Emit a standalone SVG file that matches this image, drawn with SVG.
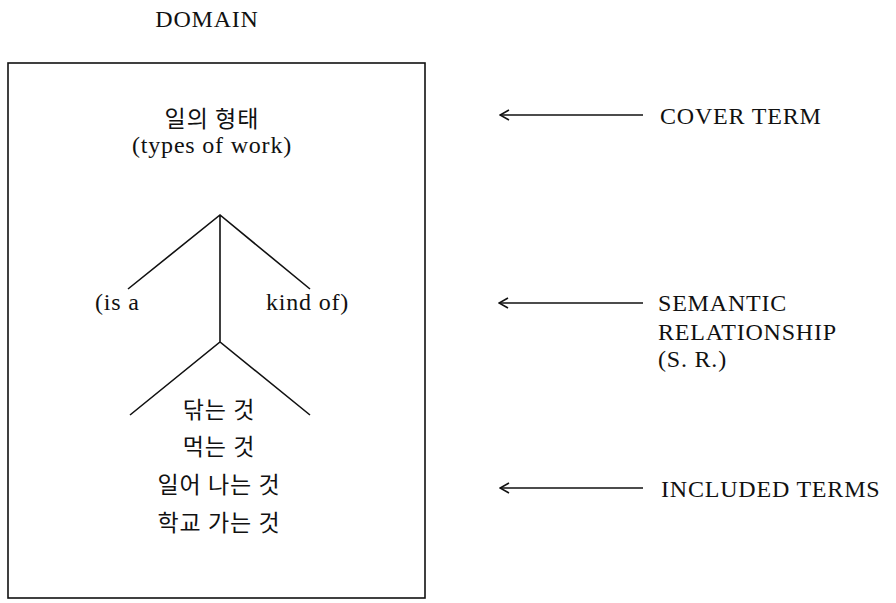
<svg xmlns="http://www.w3.org/2000/svg" width="896" height="603" viewBox="0 0 896 603">
<style>
.t{font-family:"Liberation Serif","Times New Roman",serif;font-size:24px;fill:#111;letter-spacing:0.8px}
.k{font-family:"Noto Sans CJK KR","Noto Sans CJK SC",sans-serif;font-size:23px;fill:#111;letter-spacing:1px}
.ln{stroke:#111;stroke-width:1.6;fill:none}
</style>
<defs>
<marker id="ah" viewBox="0 0 12 12" markerWidth="12" markerHeight="12" refX="11" refY="6" orient="auto" markerUnits="userSpaceOnUse">
<path d="M2,1 L11,6 L2,11" fill="none" stroke="#111" stroke-width="1.6"/>
</marker>
</defs>
<rect width="896" height="603" fill="#fff"/>
<g id="domain-title"><text class="t" x="207" y="27" text-anchor="middle">DOMAIN</text></g>
<g id="domain-box"><rect x="8" y="63" width="417" height="535" class="ln"/></g>
<g id="cover-term">
<text class="k" x="212" y="127" text-anchor="middle">일의 형태</text>
<text class="t" x="212" y="153" text-anchor="middle">(types of work)</text>
</g>
<g id="semantic-relationship">
<text class="t" x="95" y="310">(is a</text>
<text class="t" x="266" y="310">kind of)</text>
</g>
<g id="included-terms">
<text class="k" x="219" y="418" text-anchor="middle">닦는 것</text>
<text class="k" x="219" y="455" text-anchor="middle">먹는 것</text>
<text class="k" x="219" y="493" text-anchor="middle">일어 나는 것</text>
<text class="k" x="219" y="531" text-anchor="middle">학교 가는 것</text>
</g>
<g id="label-cover"><text class="t" x="660" y="124">COVER TERM</text></g>
<g id="label-sr">
<text class="t" x="658" y="311">SEMANTIC</text>
<text class="t" x="658" y="340">RELATIONSHIP</text>
<text class="t" x="658" y="367">(S. R.)</text>
</g>
<g id="label-included"><text class="t" x="661" y="497">INCLUDED TERMS</text></g>
<g id="connectors">
<path class="ln" d="M128,289 L220,215 L310,289 M220,215 L220,342 M130,415 L220,342 L310,415"/>
<line class="ln" x1="643" y1="115" x2="500" y2="115" marker-end="url(#ah)"/>
<line class="ln" x1="643" y1="303" x2="499" y2="303" marker-end="url(#ah)"/>
<line class="ln" x1="643" y1="488" x2="500" y2="488" marker-end="url(#ah)"/>
</g>
</svg>
